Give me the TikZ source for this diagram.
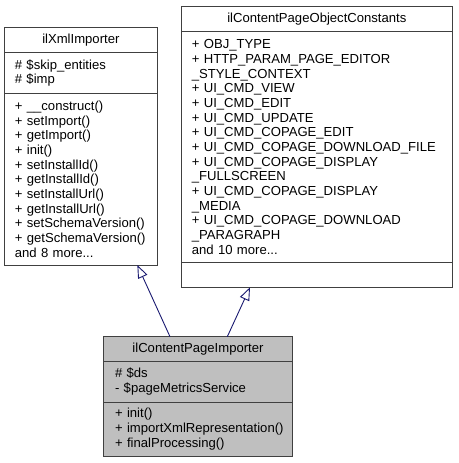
\documentclass[tikz,border=0pt]{standalone}
\usepackage{fontspec}
\setmainfont{Liberation Sans}
\usepackage{tikz}
\usetikzlibrary{positioning,arrows.meta}
\definecolor{edgeblue}{HTML}{191970}
\definecolor{boxline}{HTML}{404040}
\definecolor{boxfill}{HTML}{BFBFBF}
\hyphenpenalty=10000
\exhyphenpenalty=10000

\begin{document}
\begin{tikzpicture}[x=1pt, y=-1pt, font=\fontsize{13.1}{14.67}\selectfont,
  inh/.style={draw=edgeblue, line width=0.9pt, -{Triangle[open, length=13pt, width=10pt]}}]
\tikzstyle{part}=[draw=boxline, rectangle, line width=1pt, inner sep=0pt, outer sep=0pt, align=left]
\tikzstyle{hdr}=[part, align=center]
\useasboundingbox (0,0) rectangle (458,463);
% ilXmlImporter
\node[hdr, anchor=north west, minimum width=152.3pt, minimum height=25pt] (xmlHdr) at (4.7,27.7) {ilXmlImporter};
\node[part, below=0pt of xmlHdr, minimum width=152.3pt, minimum height=40.6pt, text width=132pt] (xmlAttr) {\# \$skip\_entities\\\# \$imp};
\node[part, below=0pt of xmlAttr, minimum width=152.3pt, minimum height=171.7pt, text width=132pt] (xmlOps) {+ \_\_construct()\\+ setImport()\\+ getImport()\\+ init()\\+ setInstallId()\\+ getInstallId()\\+ setInstallUrl()\\+ getInstallUrl()\\+~setSchemaVersion()\\+~getSchemaVersion()\\and 8 more...};
% ilContentPageObjectConstants
\node[hdr, anchor=north west, minimum width=271.7pt, minimum height=25.7pt] (cstHdr) at (181,6) {ilContentPageObjectConstants};
\node[part, below=0pt of cstHdr, minimum width=271.7pt, minimum height=230.6pt, text width=250pt] (cstAttr) {+ OBJ\_TYPE\\+ HTTP\_PARAM\_PAGE\_EDITOR\\\_STYLE\_CONTEXT\\+ UI\_CMD\_VIEW\\+ UI\_CMD\_EDIT\\+ UI\_CMD\_UPDATE\\+ UI\_CMD\_COPAGE\_EDIT\\+~UI\_CMD\_COPAGE\_DOWNLOAD\_FILE\\+ UI\_CMD\_COPAGE\_DISPLAY\\\_FULLSCREEN\\+ UI\_CMD\_COPAGE\_DISPLAY\\\_MEDIA\\+ UI\_CMD\_COPAGE\_DOWNLOAD\\\_PARAGRAPH\\and 10 more...};
\node[part, below=0pt of cstAttr, minimum width=271.7pt, minimum height=25pt] (cstOps) {};
% ilContentPageImporter
\node[hdr, fill=boxfill, anchor=north west, minimum width=189.4pt, minimum height=24.8pt] (impHdr) at (103.3,336.7) {ilContentPageImporter};
\node[part, fill=boxfill, below=0pt of impHdr, minimum width=189.4pt, minimum height=40.5pt, text width=166pt] (impAttr) {\# \$ds\\- \$pageMetricsService};
\node[part, fill=boxfill, below=0pt of impAttr, minimum width=189.4pt, minimum height=54pt, text width=166pt] (impOps) {+ init()\\+~importXmlRepresentation()\\+ finalProcessing()};
% inheritance
\draw[inh] ([xshift=-28pt]impHdr.north) -- ([xshift=56.5pt]xmlOps.south);
\draw[inh] ([xshift=29.3pt]impHdr.north) -- ([xshift=-66.85pt]cstOps.south);
\end{tikzpicture}
\end{document}
